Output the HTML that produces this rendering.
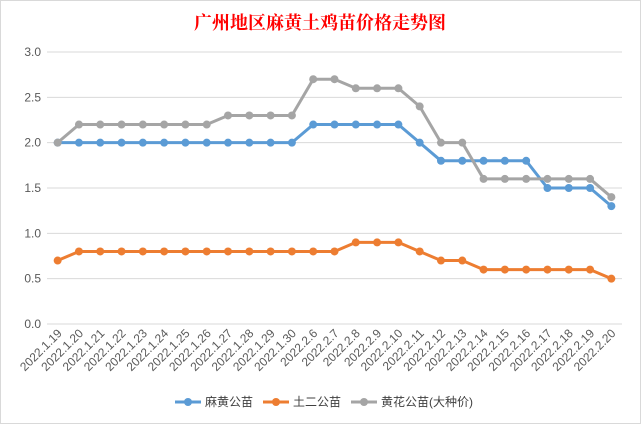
<!DOCTYPE html>
<html><head><meta charset="utf-8"><style>
body{margin:0;background:#fff;}
svg{display:block;font-family:"Liberation Sans","Noto Sans CJK SC",sans-serif;}
</style></head><body>
<svg id="c" width="641" height="424">
<rect x="0.5" y="0.5" width="640" height="423" fill="#fff" stroke="#d9d9d9"/>
<text x="320" y="29" text-anchor="middle" fill="#ff0000" font-size="18" font-weight="bold" font-family="'Noto Serif CJK SC',serif">广州地区麻黄土鸡苗价格走势图</text>
<g id="grid"></g><g id="series"></g><g id="xl"></g>
<g font-size="12" fill="#404040">
<g><line x1="175" y1="402" x2="201" y2="402" stroke="#5b9bd5" stroke-width="3"/><circle cx="188" cy="402" r="4" fill="#5b9bd5"/><text x="205" y="406">麻黄公苗</text></g>
<g><line x1="263" y1="402" x2="289" y2="402" stroke="#ed7d31" stroke-width="3"/><circle cx="276" cy="402" r="4" fill="#ed7d31"/><text x="293" y="406">土二公苗</text></g>
<g><line x1="351" y1="402" x2="377" y2="402" stroke="#a5a5a5" stroke-width="3"/><circle cx="364" cy="402" r="4" fill="#a5a5a5"/><text x="381" y="406">黄花公苗(大种价)</text></g>
</g>
</svg>
<script>
const categories=["2022.1.19","2022.1.20","2022.1.21","2022.1.22","2022.1.23","2022.1.24","2022.1.25","2022.1.26","2022.1.27","2022.1.28","2022.1.29","2022.1.30","2022.2.6","2022.2.7","2022.2.8","2022.2.9","2022.2.10","2022.2.11","2022.2.12","2022.2.13","2022.2.14","2022.2.15","2022.2.16","2022.2.17","2022.2.18","2022.2.19","2022.2.20"];
const mahuang=[2.0,2.0,2.0,2.0,2.0,2.0,2.0,2.0,2.0,2.0,2.0,2.0,2.2,2.2,2.2,2.2,2.2,2.0,1.8,1.8,1.8,1.8,1.8,1.5,1.5,1.5,1.3];
const tuer=[0.7,0.8,0.8,0.8,0.8,0.8,0.8,0.8,0.8,0.8,0.8,0.8,0.8,0.8,0.9,0.9,0.9,0.8,0.7,0.7,0.6,0.6,0.6,0.6,0.6,0.6,0.5];
const huanghua=[2.0,2.2,2.2,2.2,2.2,2.2,2.2,2.2,2.3,2.3,2.3,2.3,2.7,2.7,2.6,2.6,2.6,2.4,2.0,2.0,1.6,1.6,1.6,1.6,1.6,1.6,1.4];
const yTicks=["0.0","0.5","1.0","1.5","2.0","2.5","3.0"];
const NS="http://www.w3.org/2000/svg";
const L=47,R=622,T=52,B=324,yMax=3;
const step=(R-L)/categories.length;
const xs=i=>L+step*(i+0.5);
const ys=v=>B-(v/yMax)*(B-T);
function mk(t,a,p){const e=document.createElementNS(NS,t);for(const k in a)e.setAttribute(k,a[k]);p.appendChild(e);return e;}
const g=document.getElementById('grid');
yTicks.forEach(t=>{const v=parseFloat(t),y=ys(v);
const l=mk('line',{x1:L,x2:R,y1:y,y2:y,stroke:'#d9d9d9'},g);


const tx=mk('text',{x:L-6,y:y+4,'text-anchor':'end','font-size':12,fill:'#595959'},g);tx.textContent=t;

});
const xl=document.getElementById('xl');
categories.forEach((c,i)=>{const x=xs(i)+5,y=334;
const tx=mk('text',{x:x,y:y,'text-anchor':'end','font-size':12,fill:'#595959',transform:`rotate(-45 ${x} ${y})`},xl);tx.textContent=c;

});
const sg=document.getElementById('series');
[[mahuang,'#5b9bd5','series-mahuang'],[tuer,'#ed7d31','series-tuer'],[huanghua,'#a5a5a5','series-huanghua']].forEach(([d,col,n])=>{
const grp=mk('g',{},sg);


const pl=mk('polyline',{points:d.map((v,i)=>xs(i)+','+ys(v)).join(' '),fill:'none',stroke:col,'stroke-width':3,'stroke-linejoin':'round'},grp);


d.forEach((v,i)=>{const p=mk('circle',{cx:xs(i),cy:ys(v),r:4,fill:col},grp);

});});
</script>
</body></html>
